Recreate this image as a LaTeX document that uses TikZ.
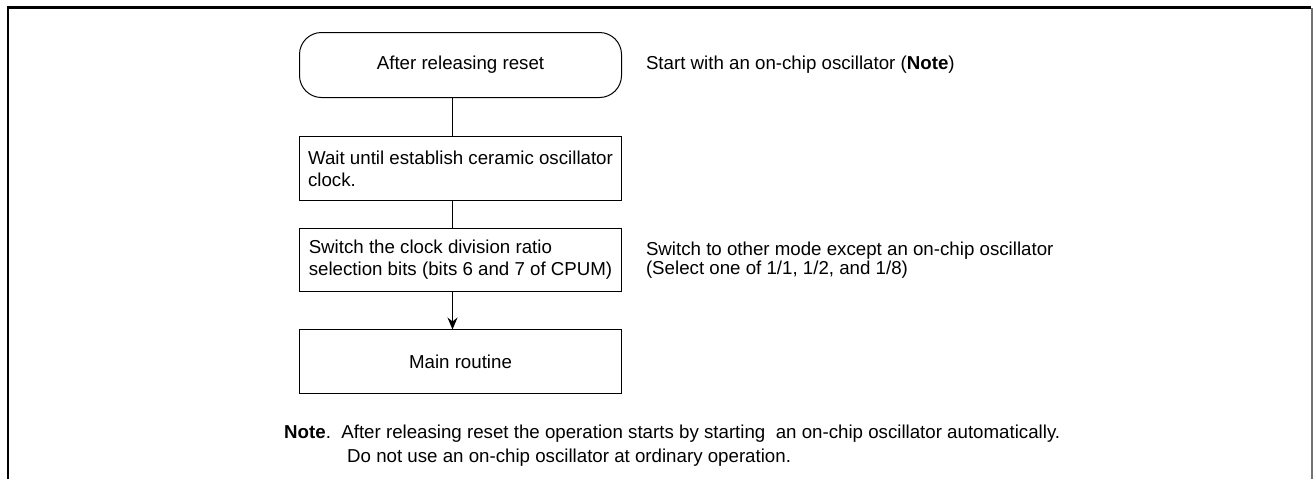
\documentclass[tikz,border=0pt]{standalone}
\usepackage{fontspec}
\setmainfont{Liberation Sans}
\usetikzlibrary{shapes}
\usetikzlibrary{arrows.meta}
\usetikzlibrary{positioning}

\begin{document}
\begin{tikzpicture}[x=1pt,y=1pt,font=\fontsize{18.7}{22}\selectfont]
\tikzstyle{terminal} = [rectangle, draw=black, line width=1pt, rounded corners=22pt, minimum width=322pt, minimum height=65pt, anchor=center]
\tikzstyle{block} = [rectangle, draw=black, line width=1pt, minimum width=322pt, minimum height=64pt, inner xsep=8pt, align=left, anchor=center]
\tikzstyle{remark} = [anchor=west, inner sep=0pt, align=left, font=\fontsize{18.7}{19.5}\selectfont]
\tikzstyle{line} = [draw, line width=1pt]
\useasboundingbox (0,0) rectangle (1313,-479);
% frame
\draw[line width=2.5pt] (8,-479) -- (8,-7.5) -- (1311,-7.5);
\draw[black!55, line width=1.2pt] (1312,-7.5) -- (1312,-479);
\matrix (chart) [column sep=24pt, row sep=38pt, inner sep=0pt, outer sep=0pt, anchor=north west] at (299,-32)
{
% row 1
\node [terminal] (start) {After releasing reset}; &
\node [remark] (starttext) {Start with an on-chip oscillator (\textbf{Note})}; \\
% row 2
\node [block] (wait) {Wait until establish ceramic oscillator\\clock.}; & \\[-11pt]
% row 3
\node [block, minimum height=63pt] (ratio) {Switch the clock division ratio\\selection bits (bits 6 and 7 of CPUM)}; &
\node [remark] (ratiotext) {Switch to other mode except an on-chip oscillator\\(Select one of 1/1, 1/2, and 1/8)}; \\[-1pt]
% row 4
\node [block, align=center] (main) {Main routine}; & \\
};
\draw[line] ([xshift=-8pt]start.south) -- ([xshift=-8pt]wait.north);
\draw[line] ([xshift=-8pt]wait.south) -- ([xshift=-8pt]ratio.north);
\draw[line,->,>={Stealth[length=12pt,width=10pt,inset=4pt]}] ([xshift=-8pt]ratio.south) -- ([xshift=-8pt]main.north);
% note
\node [anchor=west, inner sep=0pt, align=left, font=\fontsize{18.7}{24}\selectfont] (note) at (284,-446)
  {\textbf{Note}.\ \ After releasing reset the operation starts by starting\ \ an on-chip oscillator automatically.\\
   \hspace*{63pt}Do not use an on-chip oscillator at ordinary operation.};
\end{tikzpicture}
\end{document}
